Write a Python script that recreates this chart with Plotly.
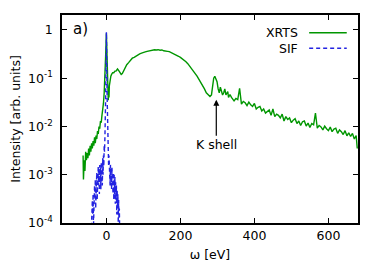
import plotly.graph_objects as go
import numpy as np

# XRTS spectrum (energy in eV, intensity arb. units)
xrts_e = [-63, -62, -60, -58, -56, -54, -52, -50, -48, -46, -44, -42, -40, -38, -36, -34, -32, -30,
          -28, -26, -24, -22, -20, -18, -16, -14, -12, -10, -8, -6, -4, -2, 0, 1, 2, 3, 4, 5, 6, 7, 8,
          10, 12, 14, 17, 20, 23, 26, 30, 33, 36, 40, 43, 46, 50, 55, 60, 65, 70, 75, 80, 85, 90, 95,
          100, 105, 110, 115, 120, 125, 130, 135, 140, 145, 150, 155, 160, 165, 170, 175, 180, 185,
          190, 195, 200, 205, 210, 215, 220, 225, 230, 235, 240, 245, 250, 255, 260, 265, 270, 275,
          280, 284, 287, 290, 293, 296, 299, 302, 305, 308, 311, 314, 317, 320, 323, 326, 328, 330,
          334, 338, 342,
          345, 350, 355, 360, 365, 370, 375, 380, 385, 390, 395, 400, 405, 410, 415, 420, 425, 430,
          435, 440, 445, 450, 455, 460, 465, 470, 475, 480, 485, 490, 495, 500, 505, 510, 515, 520,
          525, 530, 535, 540, 545, 550, 555, 560, 565, 570, 575, 580, 585, 590, 595, 600, 605, 610,
          615, 620, 625, 630, 635, 640, 645, 650, 655, 660, 665, 670, 675, 678]
xrts_i = [2.5e-3, 8e-4, 2e-3, 1.2e-3, 3e-3, 2e-3, 2.8e-3, 2.2e-3, 3.5e-3, 2.5e-3, 4e-3, 3e-3, 4.5e-3,
          3.5e-3, 5e-3, 4e-3, 6e-3, 4.5e-3, 6.5e-3, 5.5e-3, 8e-3, 7e-3, 1.0e-2, 9e-3, 1.3e-2, 1.2e-2,
          1.7e-2, 2.2e-2, 3e-2, 5e-2, 0.1, 0.3, 0.85, 0.5, 0.15, 0.06, 0.045, 0.035, 0.05, 0.04, 0.07,
          0.1, 0.11, 0.12, 0.13, 0.13, 0.14, 0.14, 0.155, 0.145, 0.13, 0.12, 0.125, 0.14, 0.16, 0.19,
          0.21, 0.23, 0.26, 0.27, 0.29, 0.31, 0.32, 0.33, 0.345, 0.35, 0.36, 0.37, 0.375, 0.38, 0.39,
          0.385, 0.39, 0.38, 0.385, 0.37, 0.37, 0.36, 0.355, 0.34, 0.33, 0.32, 0.30, 0.285, 0.27,
          0.255, 0.24, 0.22, 0.20, 0.18, 0.16, 0.14, 0.125, 0.11, 0.095, 0.085, 0.07, 0.06, 0.05,
          0.045, 0.042, 0.045, 0.07, 0.10, 0.11, 0.095, 0.085, 0.06, 0.05, 0.065, 0.055, 0.045, 0.05,
          0.06, 0.045, 0.05, 0.053, 0.04, 0.046, 0.04, 0.037,
          0.034, 0.038, 0.036, 0.062, 0.029, 0.033, 0.031, 0.027, 0.032, 0.028, 0.026, 0.030, 0.023,
          0.025, 0.026, 0.021, 0.023, 0.019, 0.021, 0.022, 0.017, 0.023, 0.016, 0.018, 0.017, 0.015,
          0.018, 0.013, 0.016, 0.014, 0.015, 0.012, 0.0135, 0.0145, 0.0115, 0.013, 0.0105, 0.0125,
          0.013, 0.0102, 0.0118, 0.0095, 0.0115, 0.0108, 0.019, 0.0092, 0.0105, 0.0098, 0.0085, 0.0102,
          0.009, 0.0082, 0.0097, 0.0078, 0.0088, 0.0092, 0.0072, 0.0085, 0.0078, 0.0068, 0.0082,
          0.0064, 0.0074, 0.0062, 0.0072, 0.0055, 0.0065, 0.0035]

# SIF spectrum
sif_e = [-41, -40, -39, -38, -37, -36, -35, -34, -33, -32, -31, -30, -29, -28, -27, -26, -25, -24,
         -23, -22, -21, -20, -19, -18, -17, -16, -15, -14, -13, -12, -11, -10, -9, -8, -7, -6, -5,
         -4, -3, -2, -1, 0, 1, 2, 3, 4, 5, 6, 7, 8, 9, 10, 11, 12, 13, 14, 15, 16, 17, 18, 19, 20,
         21, 22, 23, 24, 25, 26, 27, 28, 29, 30, 31, 32, 33, 34, 35, 36]
sif_i = [6e-5, 2e-4, 1e-4, 3e-4, 1.5e-4, 4e-4, 8e-5, 5e-4, 2e-4, 6e-4, 3e-4, 8e-4, 2e-4, 9e-4, 4e-4,
         1.1e-3, 3e-4, 1.2e-3, 5e-4, 1.5e-3, 6e-4, 1.3e-3, 4e-4, 1.6e-3, 7e-4, 1.4e-3, 5e-4, 1.8e-3,
         8e-4, 1.5e-3, 6e-4, 2.2e-3, 1e-3, 2.5e-3, 1.5e-3, 4e-3, 3e-3, 6e-3, 1.2e-2, 4e-2, 0.2, 0.9,
         0.2, 0.04, 0.012, 5e-3, 2.5e-3, 1.5e-3, 2.5e-3, 8e-4, 2e-3, 6e-4, 1.6e-3, 7e-4, 1.5e-3,
         5e-4, 1.4e-3, 6e-4, 1.2e-3, 4e-4, 1.1e-3, 3e-4, 1e-3, 4e-4, 9e-4, 2.5e-4, 7e-4, 3e-4, 6e-4,
         1.5e-4, 5e-4, 2e-4, 4e-4, 1e-4, 3e-4, 1.2e-4, 2e-4, 6e-5]

ytick_vals = [1e-4, 1e-3, 1e-2, 1e-1, 1]
ytick_text = ["10<sup>-4</sup>", "10<sup>-3</sup>", "10<sup>-2</sup>", "10<sup>-1</sup>", "1"]
xtick_vals = [0, 200, 400, 600]

GREEN = "rgb(0,150,0)"
BLUE = "rgb(35,35,225)"
FONT = "DejaVu Sans"
FS = 12.5

fig = go.Figure()
fig.add_trace(go.Scatter(x=xrts_e, y=xrts_i, mode="lines", name="XRTS",
                         line=dict(color=GREEN, width=1.4), showlegend=False))
fig.add_trace(go.Scatter(x=sif_e, y=sif_i, mode="lines", name="SIF",
                         line=dict(color=BLUE, width=1.4, dash="4px,3px"), showlegend=False))

axis_common = dict(showline=True, linecolor="black", linewidth=1.5, mirror="ticks",
                   ticks="inside", ticklen=5, tickwidth=1, tickcolor="black",
                   showgrid=False, zeroline=False, automargin=False,
                   tickfont=dict(family=FONT, size=FS, color="black"))

fig.update_xaxes(range=[-120, 680], tickvals=xtick_vals,
                 title=dict(text="ω [eV]", font=dict(family=FONT, size=FS, color="black"), standoff=8),
                 **axis_common)
fig.update_yaxes(type="log", range=[-4, 0.31], tickvals=ytick_vals, ticktext=ytick_text,
                 ticklabelstandoff=5,
                 title=dict(text="Intensity [arb. units]", font=dict(family=FONT, size=FS, color="black"),
                            standoff=8),
                 **axis_common)

# legend drawn as text + sample lines (text on left like the original)
legend_items = [("XRTS", GREEN, "solid", 0.915), ("SIF", BLUE, "4px,3px", 0.84)]
annotations = []
shapes = []
for label, col, dash, yp in legend_items:
    annotations.append(dict(xref="paper", yref="paper", x=0.805, y=yp, text=label, showarrow=False,
                            xanchor="right", yanchor="middle",
                            font=dict(family=FONT, size=FS, color="black")))
    shapes.append(dict(type="line", xref="paper", yref="paper", x0=0.835, x1=0.962, y0=yp, y1=yp,
                       line=dict(color=col, width=1.5, dash=dash)))

annotations.append(dict(xref="paper", yref="paper", x=0.03, y=0.935, text="a)", showarrow=False,
                        xanchor="left", yanchor="middle",
                        font=dict(family=FONT, size=15, color="black")))
annotations.append(dict(x=297, y=np.log10(0.036), xref="x", yref="y", text="K shell",
                        showarrow=True, arrowhead=2, arrowsize=1, arrowwidth=1.2, arrowcolor="black",
                        ax=0, ay=45, font=dict(family=FONT, size=FS, color="black")))

# page body adds an 8px offset, margins compensate
fig.update_layout(width=384, height=273, margin=dict(l=54, r=34, t=7, b=58),
                  paper_bgcolor="white", plot_bgcolor="white",
                  annotations=annotations, shapes=shapes, showlegend=False)

fig.write_html("out.html")
